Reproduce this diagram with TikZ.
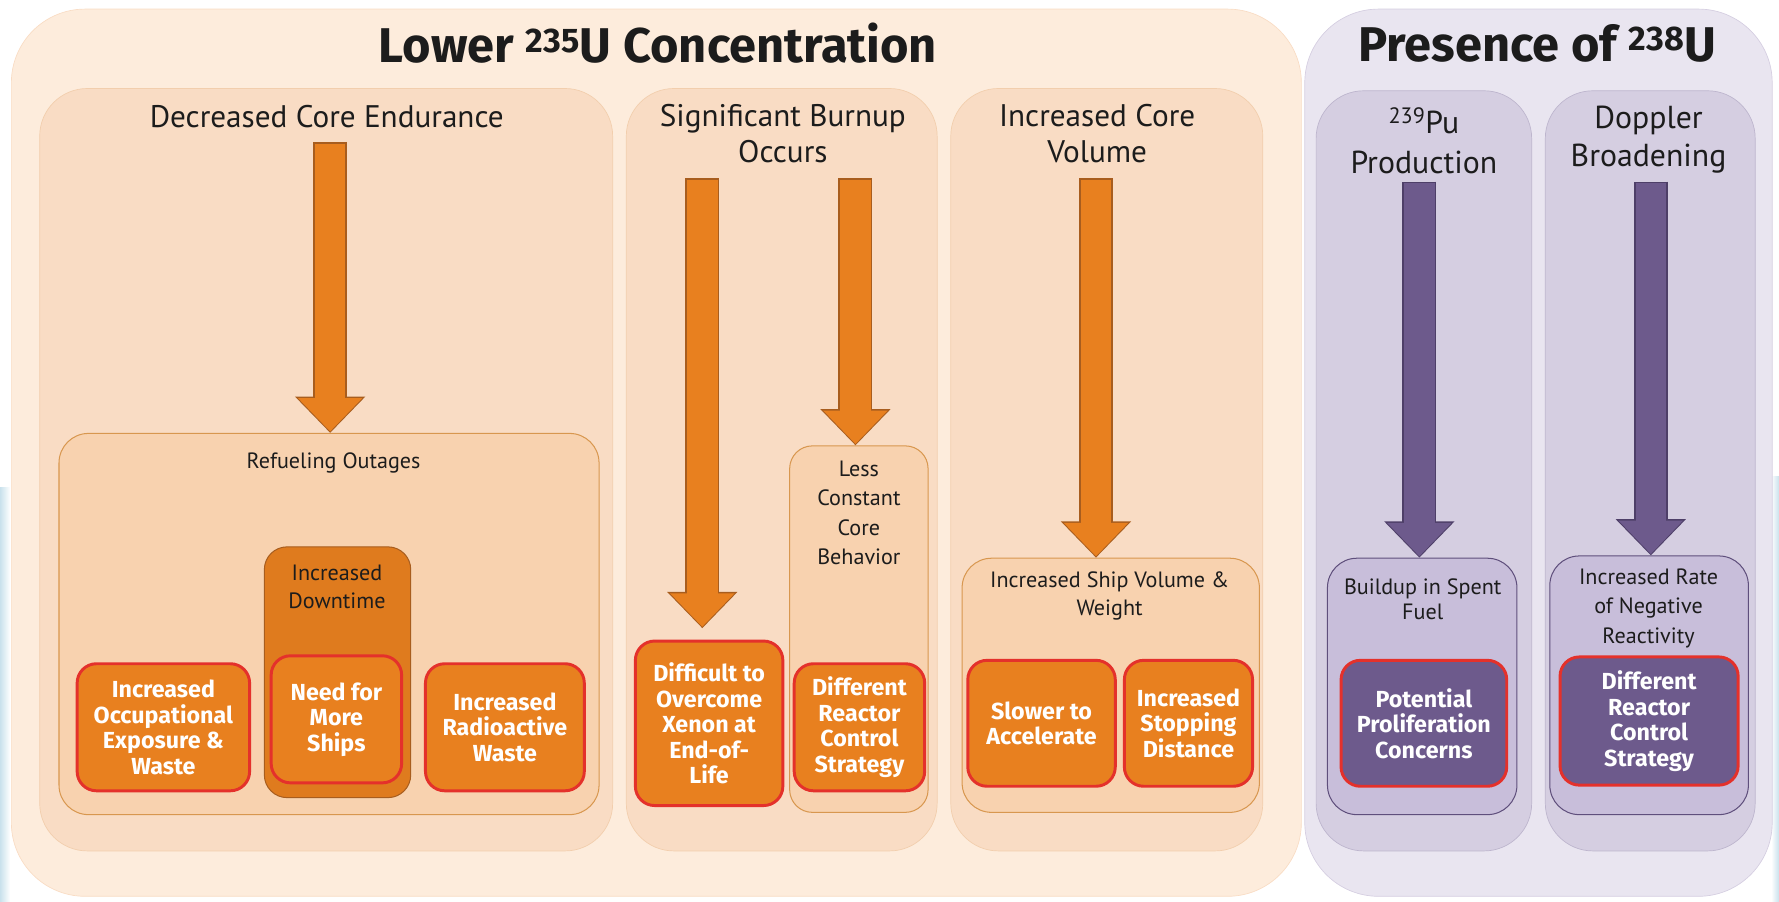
\documentclass[tikz,border=0pt]{standalone}
\usepackage{fontspec}
\setmainfont{PT Sans}
\newfontfamily\heavyfont{Fira Sans}
\usetikzlibrary{arrows.meta}

\definecolor{peachout}{HTML}{FDECDC}
\definecolor{peachcol}{HTML}{F9DCC4}
\definecolor{peachsub}{HTML}{F8D2AF}
\definecolor{peachrim}{HTML}{D8974F}
\definecolor{burnt}{HTML}{E8801F}
\definecolor{burntrim}{HTML}{A85D1E}
\definecolor{keyred}{HTML}{E4312B}
\definecolor{lilacout}{HTML}{E9E5F0}
\definecolor{lilaccol}{HTML}{D5CEE1}
\definecolor{lilacsub}{HTML}{C8BEDA}
\definecolor{lilacrim}{HTML}{5F4F7C}
\definecolor{plum}{HTML}{6D5A8C}
\definecolor{plumrim}{HTML}{4E3F68}
\definecolor{ink}{HTML}{1C1C1C}
\definecolor{edgeblue}{HTML}{C9E1EC}

\begin{document}
\begin{tikzpicture}[x=1pt,y=-1pt,
  outerbox/.style={rectangle,rounded corners=65pt,line width=0.6pt},
  colbox/.style={rectangle,rounded corners=42pt,line width=0.6pt},
  subbox/.style={rectangle,rounded corners=26pt,line width=0.9pt},
  keybox/.style={rectangle,rounded corners=17pt,line width=2.6pt,draw=keyred,inner sep=2pt,
    text=white,align=center,font=\heavyfont\bfseries\fontsize{20.5}{22.5}\selectfont},
  bigtitle/.style={text=ink,font=\heavyfont\bfseries\fontsize{43}{48}\selectfont},
  colhead/.style={align=center,text=ink,font=\fontsize{27.5}{32}\selectfont},
  note/.style={align=center,text=ink,font=\fontsize{19.5}{25}\selectfont},
  arim/.style={line width=30pt,draw=#1,-{Triangle[width=60pt,length=32pt]}},
  abody/.style={line width=27pt,draw=#1,shorten <=1.5pt,shorten >=1.2pt,
    -{Triangle[width=55pt,length=29.5pt]}}]
\useasboundingbox (0,0) rectangle (1568,795);
\shade[left color=edgeblue,right color=white] (0,430) rectangle (9,795);
\shade[left color=white,right color=edgeblue] (1561,420) rectangle (1568,795);

% the two groups
\node[outerbox,fill=peachout,draw=peachcol,minimum width=1137,minimum height=782] (lower) at (578.5,399) {};
\node[bigtitle] (lowert) at (580,38) {Lower \textsuperscript{235}U Concentration};
\node[outerbox,fill=lilacout,draw=lilaccol,minimum width=412,minimum height=782] (presence) at (1356,399) {};
\node[bigtitle] (presencet) at (1355,38) {Presence of \textsuperscript{238}U};

% columns
\node[colbox,fill=peachcol,draw=peachcol!80!peachrim,minimum width=505,minimum height=672] (endur) at (287.5,414) {};
\node[colbox,fill=peachcol,draw=peachcol!80!peachrim,minimum width=274,minimum height=672] (burnup) at (689,414) {};
\node[colbox,fill=peachcol,draw=peachcol!80!peachrim,minimum width=275,minimum height=672] (volume) at (975.5,414) {};
\node[colbox,fill=lilaccol,draw=lilaccol!80!lilacrim,minimum width=190,minimum height=670] (pu) at (1255,415) {};
\node[colbox,fill=lilaccol,draw=lilaccol!80!lilacrim,minimum width=185,minimum height=670] (doppler) at (1454.5,415) {};
\node[colhead] (endurt) at (288,103) {Decreased Core Endurance};
\node[colhead] (burnupt) at (690,118) {Significant Burnup\\Occurs};
\node[colhead] (volumet) at (967,118) {Increased Core\\Volume};
\node[colhead,font=\fontsize{28}{35}\selectfont] (put) at (1255,124) {\textsuperscript{239}Pu\\Production};
\node[colhead,font=\fontsize{28}{33}\selectfont] (dopplert) at (1453,123) {Doppler\\Broadening};

% inner boxes
\node[subbox,fill=peachsub,draw=peachrim,minimum width=476,minimum height=336] (refuel) at (290,550) {};
\node[note] (refuelt) at (294,408) {Refueling Outages};
\node[subbox,rounded corners=20pt,fill=burnt!96!black,draw=burntrim,minimum width=129,minimum height=221] (downtime) at (297.5,592.5) {};
\node[note] (downtimet) at (297,517) {Increased\\Downtime};
\node[subbox,rounded corners=20pt,fill=peachsub,draw=peachrim,minimum width=122,minimum height=323] (lessc) at (757,554.5) {};
\node[note,font=\fontsize{19.5}{26}\selectfont] (lessct) at (757,452) {Less\\Constant\\Core\\Behavior};
\node[subbox,fill=peachsub,draw=peachrim,minimum width=262,minimum height=224] (shipv) at (979,604) {};
\node[note] (shipvt) at (978,525) {Increased Ship Volume \&\\Weight};
\node[subbox,fill=lilacsub,draw=lilacrim,minimum width=167,minimum height=226] (buildup) at (1253.5,605) {};
\node[note,font=\fontsize{19.5}{22}\selectfont] (buildupt) at (1254,528) {Buildup in Spent\\Fuel};
\node[subbox,fill=lilacsub,draw=lilacrim,minimum width=175,minimum height=228] (negrate) at (1453.5,604) {};
\node[note,font=\fontsize{19.5}{26}\selectfont] (negratet) at (1453,536) {Increased Rate\\of Negative\\Reactivity};

% outcomes
\node[keybox,fill=burnt,minimum width=152,minimum height=112] (occup) at (144,641) {Increased\\Occupational\\Exposure \&\\Waste};
\node[keybox,fill=burnt,minimum width=115,minimum height=112] (ships) at (296.5,634) {Need for\\More\\Ships};
\node[keybox,fill=burnt,minimum width=140,minimum height=112] (radwaste) at (445,641) {Increased\\Radioactive\\Waste};
\node[keybox,fill=burnt,minimum width=130,minimum height=145] (xenon) at (625,637.5) {Difficult to\\Overcome\\Xenon at\\End-of-\\Life};
\node[keybox,fill=burnt,minimum width=115,minimum height=112] (control) at (757.5,641) {Different\\Reactor\\Control\\Strategy};
\node[keybox,fill=burnt,minimum width=130,minimum height=111] (slower) at (918,637.5) {Slower to\\Accelerate};
\node[keybox,fill=burnt,minimum width=113,minimum height=111] (stopping) at (1047.5,637.5) {Increased\\Stopping\\Distance};
\node[keybox,fill=plum,minimum width=146,minimum height=111] (prolif) at (1255,637.5) {Potential\\Proliferation\\Concerns};
\node[keybox,fill=plum,minimum width=157,minimum height=113] (control2) at (1453.5,635.5) {Different\\Reactor\\Control\\Strategy};

% block arrows
\coordinate (a1) at (291,125);
\coordinate (a2) at (619,157);
\coordinate (a3) at (754,157);
\coordinate (a4) at (966,157);
\coordinate (a5) at (1251,160);
\coordinate (a6) at (1455,160);
\draw[arim=burntrim] (a1) -- (a1 |- refuel.north);
\draw[abody=burnt] (a1) -- (a1 |- refuel.north);
\draw[arim=burntrim,shorten >=10pt] (a2) -- (a2 |- xenon.north);
\draw[abody=burnt,shorten >=11.2pt] (a2) -- (a2 |- xenon.north);
\draw[arim=burntrim] (a3) -- (a3 |- lessc.north);
\draw[abody=burnt] (a3) -- (a3 |- lessc.north);
\draw[arim=burntrim] (a4) -- (a4 |- shipv.north);
\draw[abody=burnt] (a4) -- (a4 |- shipv.north);
\draw[arim=plumrim] (a5) -- (a5 |- buildup.north);
\draw[abody=plum] (a5) -- (a5 |- buildup.north);
\draw[arim=plumrim] (a6) -- (a6 |- negrate.north);
\draw[abody=plum] (a6) -- (a6 |- negrate.north);
\end{tikzpicture}
\end{document}
